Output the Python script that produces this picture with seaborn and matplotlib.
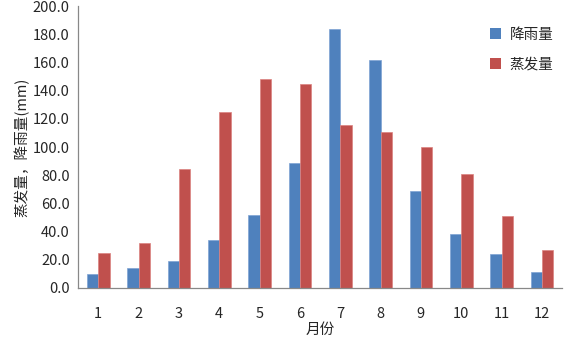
import matplotlib
matplotlib.use('Agg')
import matplotlib.pyplot as plt
from matplotlib.ticker import FixedLocator
import seaborn as sns
import pandas as pd

# data
months = ['1', '2', '3', '4', '5', '6', '7', '8', '9', '10', '11', '12']
rain = [10, 14, 19, 34, 52, 89, 184, 162, 69, 38, 24, 11]
evap = [25, 32, 84.5, 125, 148, 145, 116, 111, 100, 81, 51, 27]
series_names = ['降雨量', '蒸发量']

df = pd.DataFrame({
    '月份': months * 2,
    'value': rain + evap,
    'series': [series_names[0]] * len(months) + [series_names[1]] * len(months),
})

sns.set_style('white')
plt.rcParams['font.family'] = ['Noto Sans CJK SC', 'DejaVu Sans']

fig = plt.figure(figsize=(5.66, 3.42), dpi=100)
ax = fig.add_axes([0.138, 0.158, 0.855, 0.824])

sns.barplot(data=df, x='月份', y='value', hue='series', order=months,
            hue_order=series_names, palette=['#4F81BD', '#C0504D'],
            width=0.56, ax=ax, linewidth=0, saturation=1)

# thin lighter outline like the original
edge_cols = ['#7fa3d3', '#dc8280']
for cont, ec in zip(ax.containers, edge_cols):
    for bar in cont:
        bar.set_edgecolor(ec)
        bar.set_linewidth(0.5)

ax.set_ylim(0, 200)
ax.set_xlim(-0.5, 11.5)
ax.set_yticks(range(0, 201, 20))
ax.set_yticklabels([f'{v:.1f}' for v in range(0, 201, 20)], fontsize=10.5)
ax.tick_params(axis='x', which='major', length=0, labelsize=10.5, pad=14)
ax.xaxis.set_minor_locator(FixedLocator([i - 0.5 for i in range(13)]))
ax.tick_params(axis='x', which='minor', length=4, color='#888888', direction='out')
ax.tick_params(axis='y', length=4, color='#888888', direction='out', pad=2)

for s in ['top', 'right']:
    ax.spines[s].set_visible(False)
for s in ['left', 'bottom']:
    ax.spines[s].set_color('#888888')
    ax.spines[s].set_linewidth(0.9)

ax.set_xlabel('月份', fontsize=10.5, labelpad=1)
ax.set_ylabel('蒸发量，降雨量(mm)', fontsize=10.5, labelpad=2)

leg = ax.legend(loc='upper right', bbox_to_anchor=(1.01, 0.97), frameon=False,
                fontsize=10.5, handlelength=0.75, handleheight=0.75,
                labelspacing=1.1, handletextpad=0.6)

fig.savefig('out.png', dpi=100)
